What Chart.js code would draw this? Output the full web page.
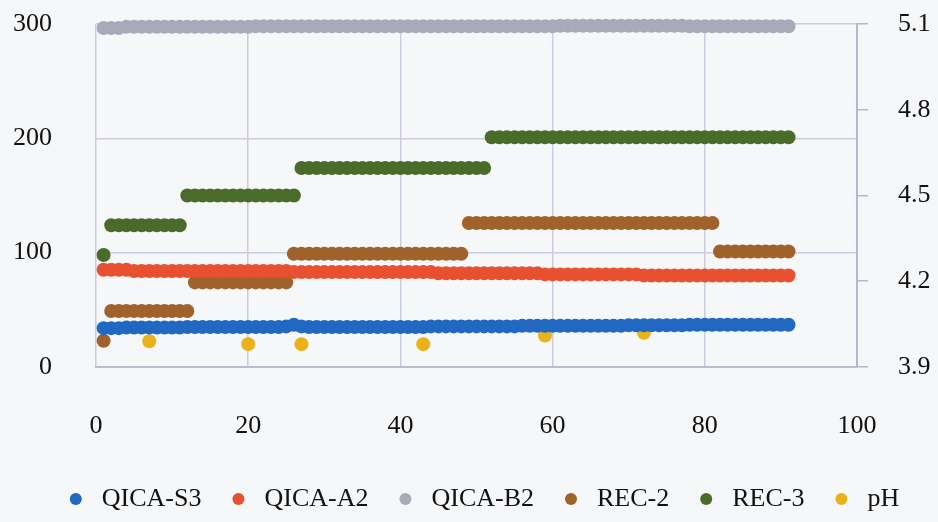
<!DOCTYPE html>
<html>
<head>
<meta charset="utf-8">
<script src="https://cdn.jsdelivr.net/npm/chart.js@4.4.1/dist/chart.umd.min.js"></script>
<style>
  body { margin: 0; background: #f6f7f9; }
  canvas { display: block; }
</style>
</head>
<body>
<canvas id="phChart" width="938" height="522"></canvas>
<script>
// sample numbers (x) for the five dense series
const samples = [
   1,  2,  3,  4,  5,  6,  7,  8,  9, 10,
  11, 12, 13, 14, 15, 16, 17, 18, 19, 20,
  21, 22, 23, 24, 25, 26, 27, 28, 29, 30,
  31, 32, 33, 34, 35, 36, 37, 38, 39, 40,
  41, 42, 43, 44, 45, 46, 47, 48, 49, 50,
  51, 52, 53, 54, 55, 56, 57, 58, 59, 60,
  61, 62, 63, 64, 65, 66, 67, 68, 69, 70,
  71, 72, 73, 74, 75, 76, 77, 78, 79, 80,
  81, 82, 83, 84, 85, 86, 87, 88, 89, 90, 91
];

const qicaS3 = [
  34, 34, 34, 34.5, 34.5, 34.5, 34.5, 34.5, 34.5, 34.5,
  34.5, 35, 35, 35, 35, 35, 35, 35, 35, 35,
  35, 35, 35, 35, 35.5, 37, 35.5, 35, 35, 35,
  35, 35, 35, 35, 35, 35, 35, 35, 35, 35,
  35, 35, 35, 35.5, 35.5, 35.5, 35.5, 35.5, 35.5, 35.5,
  35.5, 35.5, 35.5, 35.5, 35.5, 36, 36, 36, 36, 36,
  36, 36, 36, 36, 36, 36, 36, 36, 36, 36.5,
  36.5, 36.5, 36.5, 36.5, 36.5, 36.5, 36.5, 37, 37, 37,
  37, 37, 37, 37, 37, 37, 37, 37, 37, 37, 37
];

const qicaA2 = [
  85, 85, 85, 85, 84, 84, 84, 84, 84, 84,
  84, 84, 84, 84, 84, 84, 84, 84, 84, 84,
  84, 84, 84, 84, 84, 83, 83, 83, 83, 83,
  83, 83, 83, 83, 83, 83, 83, 83, 83, 83,
  83, 83, 83, 83, 82, 82, 82, 82, 82, 82,
  82, 82, 82, 82, 82, 82, 82, 82, 81, 81,
  81, 81, 81, 81, 81, 81, 81, 81, 81, 81,
  81, 80, 80, 80, 80, 80, 80, 80, 80, 80,
  80, 80, 80, 80, 80, 80, 80, 80, 80, 80, 80
];

const qicaB2 = [
  296.5, 296.5, 296.5, 297.5, 297.5, 297.5, 297.5, 297.5, 297.5, 297.5,
  297.5, 297.5, 297.5, 297.5, 297.5, 297.5, 297.5, 297.5, 297.5, 297.5,
  298, 298, 298, 298, 298, 298, 298, 298, 298, 298,
  298, 298, 298, 298, 298, 298, 298, 298, 298, 298,
  298, 298, 298, 298, 298, 298, 298, 298, 298, 298,
  298, 298, 298, 298, 298, 298, 298, 298, 298, 298,
  298.5, 298.5, 298.5, 298.5, 298.5, 298.5, 298.5, 298.5, 298.5, 298.5,
  298.5, 298.5, 298.5, 298.5, 298.5, 298.5, 298.5, 298, 298, 298,
  298, 298, 298, 298, 298, 298, 298, 298, 298, 298, 298
];

const rec2 = [
  23, 49, 49, 49, 49, 49, 49, 49, 49, 49,
  49, 49, 74, 74, 74, 74, 74, 74, 74, 74,
  74, 74, 74, 74, 74, 99, 99, 99, 99, 99,
  99, 99, 99, 99, 99, 99, 99, 99, 99, 99,
  99, 99, 99, 99, 99, 99, 99, 99, 126, 126,
  126, 126, 126, 126, 126, 126, 126, 126, 126, 126,
  126, 126, 126, 126, 126, 126, 126, 126, 126, 126,
  126, 126, 126, 126, 126, 126, 126, 126, 126, 126,
  126, 101, 101, 101, 101, 101, 101, 101, 101, 101, 101
];

const rec3 = [
  98, 124, 124, 124, 124, 124, 124, 124, 124, 124,
  124, 150, 150, 150, 150, 150, 150, 150, 150, 150,
  150, 150, 150, 150, 150, 150, 174, 174, 174, 174,
  174, 174, 174, 174, 174, 174, 174, 174, 174, 174,
  174, 174, 174, 174, 174, 174, 174, 174, 174, 174,
  174, 201, 201, 201, 201, 201, 201, 201, 201, 201,
  201, 201, 201, 201, 201, 201, 201, 201, 201, 201,
  201, 201, 201, 201, 201, 201, 201, 201, 201, 201,
  201, 201, 201, 201, 201, 201, 201, 201, 201, 201, 201
];

// pH readings, right axis
const phSamples = [7, 20, 27, 43, 59, 72];
const phValues = [3.99, 3.98, 3.98, 3.98, 4.01, 4.02];

// tick labels
const xTicks = [0, 20, 40, 60, 80, 100];
const leftTicks = [0, 100, 200, 300];
const rightTicks = [3.9, 4.2, 4.5, 4.8, 5.1];

const toPoints = (xs, ys) => xs.map((x, i) => ({ x: x, y: ys[i] }));

const tickFont = { family: 'Liberation Serif', size: 26 };
const gridColor = '#cdcbdd';

function series(label, xs, ys, color, axis) {
  return {
    label: label,
    data: toPoints(xs, ys),
    yAxisID: axis,
    backgroundColor: color,
    borderColor: color,
    pointRadius: 7,
    pointHoverRadius: 7,
    pointBorderWidth: 0,
    clip: false
  };
}

// no extra label overhang around the plot, the sizes below set it
function noOverhang(scale) {
  scale.paddingTop = 0;
  scale.paddingBottom = 0;
  scale.paddingLeft = 0;
  scale.paddingRight = 0;
}

// the legend row sits a bit right of centre in the source
const legendNudge = {
  id: 'legendNudge',
  afterLayout(chart) {
    chart.legend.left += 12;
    chart.legend.right += 12;
  }
};

const ctx = document.getElementById('phChart').getContext('2d');
new Chart(ctx, {
  type: 'scatter',
  data: {
    datasets: [
      series('QICA-S3', samples, qicaS3, '#2068c2', 'y'),
      series('QICA-A2', samples, qicaA2, '#e8502f', 'y'),
      series('QICA-B2', samples, qicaB2, '#aaa9b9', 'y'),
      series('REC-2', samples, rec2, '#a0622b', 'y'),
      series('REC-3', samples, rec3, '#4a6b2a', 'y'),
      series('pH', phSamples, phValues, '#ebb118', 'y2')
    ]
  },
  plugins: [legendNudge],
  options: {
    responsive: false,
    animation: false,
    devicePixelRatio: 1,
    layout: { padding: { left: 0, right: 0, top: 24, bottom: 0 } },
    plugins: {
      tooltip: { enabled: false },
      legend: {
        position: 'bottom',
        labels: {
          usePointStyle: true,
          pointStyle: 'circle',
          boxWidth: 26,
          boxHeight: 8.5,
          padding: 24,
          color: '#111',
          font: { family: 'Liberation Serif', size: 26 }
        }
      }
    },
    scales: {
      x: {
        type: 'linear',
        min: 0,
        max: 100,
        afterBuildTicks: (scale) => { scale.ticks = xTicks.map(v => ({ value: v })); },
        afterFit: (scale) => { scale.height = 95; noOverhang(scale); },
        ticks: { color: '#111', font: tickFont, padding: 44 },
        grid: { color: gridColor, lineWidth: 1.5, drawTicks: false },
        border: { color: '#bdbbd0', width: 2 }
      },
      y: {
        position: 'left',
        min: 0,
        max: 300,
        afterBuildTicks: (scale) => { scale.ticks = leftTicks.map(v => ({ value: v })); },
        afterFit: (scale) => { scale.width = 96; noOverhang(scale); },
        ticks: { color: '#111', font: tickFont, padding: 44 },
        grid: { color: gridColor, lineWidth: 1.5, drawTicks: false },
        border: { display: false }
      },
      y2: {
        position: 'right',
        min: 3.9,
        max: 5.1,
        afterBuildTicks: (scale) => { scale.ticks = rightTicks.map(v => ({ value: v })); },
        afterFit: (scale) => { scale.width = 81; noOverhang(scale); },
        ticks: {
          color: '#111',
          font: tickFont,
          padding: 30,
          callback: (v) => Number(v).toFixed(1)
        },
        grid: { drawOnChartArea: false, drawTicks: true, tickLength: 11, color: '#b8b6cc', lineWidth: 1.5 },
        border: { color: '#b8b6cc', width: 2 }
      }
    }
  }
});
</script>
</body>
</html>
